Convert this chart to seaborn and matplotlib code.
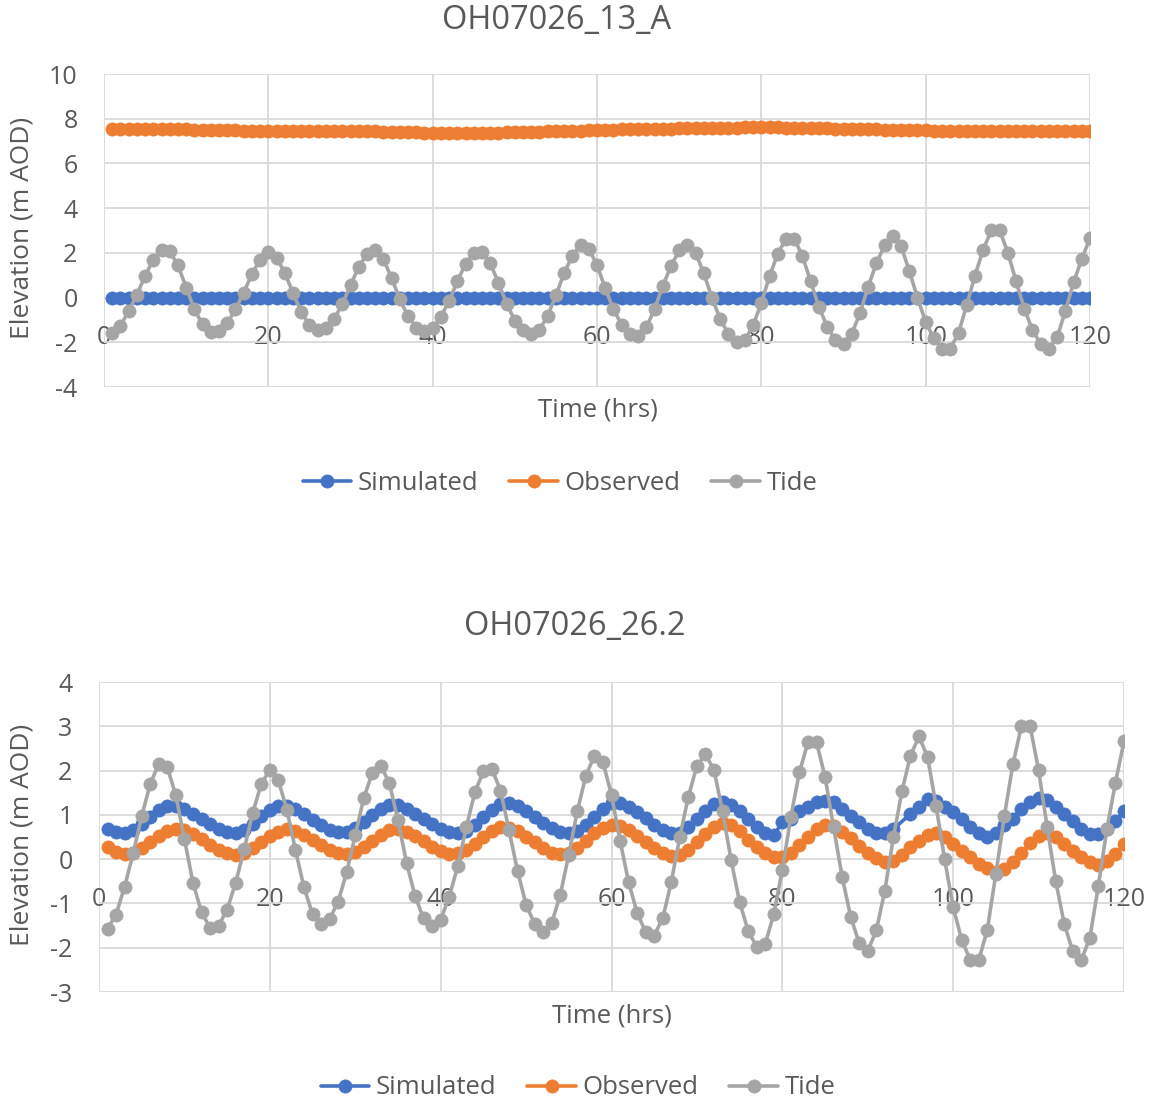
import numpy as np
import pandas as pd
import matplotlib
matplotlib.use("Agg")
import matplotlib.pyplot as plt
import seaborn as sns

hours = list(range(1, 121))

tide = [-1.57, -1.25, -0.62, 0.13, 0.97, 1.70, 2.15, 2.07, 1.44, 0.45,
        -0.53, -1.20, -1.55, -1.50, -1.14, -0.53, 0.22, 1.05, 1.70, 2.02,
        1.78, 1.11, 0.21, -0.64, -1.24, -1.46, -1.35, -0.96, -0.29, 0.54,
        1.38, 1.95, 2.11, 1.71, 0.88, -0.08, -0.83, -1.34, -1.51, -1.37,
        -0.85, -0.16, 0.72, 1.51, 1.98, 2.04, 1.55, 0.66, -0.27, -1.03,
        -1.46, -1.65, -1.44, -0.81, 0.10, 1.09, 1.88, 2.34, 2.19, 1.45,
        0.42, -0.52, -1.21, -1.65, -1.73, -1.33, -0.52, 0.51, 1.41, 2.11,
        2.37, 2.01, 1.08, -0.02, -0.97, -1.62, -1.98, -1.91, -1.24, -0.24,
        0.96, 1.96, 2.64, 2.64, 1.86, 0.72, -0.40, -1.30, -1.90, -2.07,
        -1.61, -0.71, 0.49, 1.53, 2.34, 2.77, 2.31, 1.20, 0.00, -1.09,
        -1.82, -2.28, -2.28, -1.59, -0.33, 0.98, 2.15, 3.01, 3.01, 2.01,
        0.73, -0.49, -1.46, -2.08, -2.28, -1.78, -0.60, 0.68, 1.73, 2.66]

sim_a = [0.0] * 120

obs_a = [7.55, 7.55, 7.56, 7.55, 7.55, 7.56, 7.55, 7.55, 7.56, 7.55,
         7.48, 7.48, 7.49, 7.49, 7.48, 7.48, 7.47, 7.47, 7.47, 7.46,
         7.46, 7.46, 7.46, 7.45, 7.45, 7.46, 7.46, 7.45, 7.45, 7.44,
         7.44, 7.43, 7.43, 7.42, 7.42, 7.41, 7.40, 7.39, 7.38, 7.37,
         7.36, 7.35, 7.35, 7.35, 7.36, 7.37, 7.38, 7.38, 7.39, 7.40,
         7.40, 7.41, 7.42, 7.43, 7.44, 7.45, 7.46, 7.47, 7.48, 7.49,
         7.50, 7.51, 7.52, 7.52, 7.53, 7.54, 7.55, 7.55, 7.56, 7.57,
         7.57, 7.58, 7.58, 7.59, 7.59, 7.60, 7.60, 7.61, 7.61, 7.62,
         7.61, 7.61, 7.60, 7.60, 7.59, 7.59, 7.58, 7.57, 7.56, 7.56,
         7.55, 7.54, 7.53, 7.52, 7.51, 7.50, 7.50, 7.49, 7.48, 7.48,
         7.47, 7.47, 7.46, 7.46, 7.46, 7.45, 7.45, 7.45, 7.45, 7.45,
         7.45, 7.45, 7.45, 7.45, 7.46, 7.46, 7.46, 7.46, 7.46, 7.47]

sim_b = [0.68, 0.61, 0.58, 0.66, 0.79, 0.96, 1.11, 1.19, 1.21, 1.13,
         1.03, 0.91, 0.79, 0.68, 0.61, 0.58, 0.66, 0.80, 0.97, 1.11,
         1.19, 1.21, 1.13, 1.02, 0.89, 0.76, 0.66, 0.61, 0.61, 0.70,
         0.83, 1.00, 1.13, 1.22, 1.23, 1.13, 1.03, 0.91, 0.79, 0.68,
         0.61, 0.59, 0.64, 0.78, 0.95, 1.12, 1.24, 1.27, 1.20, 1.08,
         0.95, 0.82, 0.70, 0.61, 0.58, 0.64, 0.78, 0.96, 1.14, 1.26,
         1.27, 1.18, 1.06, 0.92, 0.78, 0.65, 0.58, 0.60, 0.72, 0.90,
         1.09, 1.24, 1.30, 1.22, 1.08, 0.90, 0.72, 0.60, 0.54, 0.83,
         0.91, 1.09, 1.18, 1.28, 1.32, 1.28, 1.13, 0.98, 0.83, 0.68,
         0.60, 0.60, 0.68, np.nan, 1.02, 1.18, 1.36, 1.32, 1.18, 1.06,
         0.91, 0.73, 0.58, 0.49, 0.58, 0.76, 0.91, 1.13, 1.30, 1.38,
         1.34, 1.17, 1.02, 0.87, 0.68, 0.57, 0.57, 0.68, 0.87, 1.09]

obs_b = [0.27, 0.17, 0.12, 0.15, 0.25, 0.38, 0.52, 0.63, 0.68, 0.65,
         0.57, 0.45, 0.32, 0.21, 0.13, 0.10, 0.14, 0.25, 0.39, 0.52,
         0.62, 0.67, 0.64, 0.55, 0.43, 0.31, 0.20, 0.13, 0.11, 0.16,
         0.27, 0.41, 0.55, 0.65, 0.68, 0.62, 0.52, 0.40, 0.28, 0.18,
         0.12, 0.13, 0.21, 0.35, 0.50, 0.64, 0.72, 0.71, 0.63, 0.51,
         0.38, 0.25, 0.15, 0.11, 0.15, 0.26, 0.42, 0.58, 0.71, 0.78,
         0.75, 0.66, 0.53, 0.39, 0.25, 0.13, 0.07, 0.09, 0.20, 0.38,
         0.57, 0.73, 0.82, 0.78, 0.64, 0.44, 0.27, 0.13, 0.05, 0.04,
         0.15, 0.33, 0.51, 0.67, 0.77, 0.74, 0.62, 0.47, 0.30, 0.14,
         0.02, -0.06, -0.04, 0.10, 0.27, 0.42, 0.55, 0.60, 0.50, 0.35,
         0.19, 0.04, -0.10, -0.21, -0.28, -0.22, -0.07, 0.15, 0.37, 0.53,
         0.60, 0.50, 0.35, 0.19, 0.04, -0.07, -0.14, -0.04, 0.12, 0.34]

series_names = ["Simulated", "Observed", "Tide"]
colors = ["#4472C4", "#ED7D31", "#A5A5A5"]
titles = ["OH07026_13_A", "OH07026_26.2"]
x_ticks = [0, 20, 40, 60, 80, 100, 120]
y_ticks_a = [-4, -2, 0, 2, 4, 6, 8, 10]
y_ticks_b = [-3, -2, -1, 0, 1, 2, 3, 4]

sns.set_theme(style="white")
plt.rcParams["font.family"] = ["Open Sans", "DejaVu Sans"]
plt.rcParams["axes.unicode_minus"] = False
TXT = "#595959"
GRID = "#D9D9D9"

W, H = 1154, 1104
fig = plt.figure(figsize=(W / 100, H / 100), dpi=100)

def fx(px):
    return px / W

def fy(py):
    return 1 - py / H

ax_a = fig.add_axes([fx(104), fy(387), fx(1090 - 104), (387 - 74) / H])
ax_b = fig.add_axes([fx(99), fy(992), fx(1124 - 99), (992 - 682) / H])

def draw(ax, sim, obs, yticks):
    for i, (name, vals) in enumerate(zip(series_names, [sim, obs, tide])):
        df = pd.DataFrame({"hrs": hours, "val": vals})
        sns.lineplot(data=df, x="hrs", y="val", ax=ax, color=colors[i],
                     marker="o", markersize=9.5, linewidth=2.6,
                     markeredgecolor=colors[i], markeredgewidth=0.5,
                     label=name, zorder=3 + i, legend=False)
    ax.set_xlim(0, 120)
    ax.set_ylim(yticks[0], yticks[-1])
    ax.set_xticks(x_ticks)
    ax.set_yticks(yticks)
    ax.grid(True, color=GRID, linewidth=1.3)
    for s in ["top", "right", "left"]:
        ax.spines[s].set_visible(False)
    ax.spines["bottom"].set_position(("data", 0))
    ax.spines["bottom"].set_visible(False)
    ax.tick_params(axis="x", length=0, pad=20, labelsize=18, labelcolor=TXT)
    ax.tick_params(axis="y", length=0, pad=19, labelsize=18, labelcolor=TXT)
    ax.set_xlabel("")
    ax.set_ylabel("")

draw(ax_a, sim_a, obs_a, y_ticks_a)
draw(ax_b, sim_b, obs_b, y_ticks_b)

fig.text(fx(557), fy(20), titles[0], ha="center", va="center", fontsize=23.5, color=TXT)
fig.text(fx(575), fy(627), titles[1], ha="center", va="center", fontsize=23.5, color=TXT)
fig.text(fx(598), fy(410), "Time (hrs)", ha="center", va="center", fontsize=18.5, color=TXT)
fig.text(fx(612), fy(1016), "Time (hrs)", ha="center", va="center", fontsize=18.5, color=TXT)
fig.text(fx(22), fy(228), "Elevation (m AOD)", ha="center", va="center", rotation=90, fontsize=19, color=TXT)
fig.text(fx(22), fy(835), "Elevation (m AOD)", ha="center", va="center", rotation=90, fontsize=19, color=TXT)

for ax, cx, cy in [(ax_a, 560, 483), (ax_b, 578, 1088)]:
    handles, labels = ax.get_legend_handles_labels()
    fig.legend(handles, labels, loc="center", bbox_to_anchor=(fx(cx), fy(cy)),
               ncol=3, frameon=False, fontsize=18.5, handlelength=1.9,
               handletextpad=0.25, columnspacing=1.2, labelcolor=TXT,
               markerscale=1.0)

fig.savefig("out.png", dpi=100, facecolor="white")
